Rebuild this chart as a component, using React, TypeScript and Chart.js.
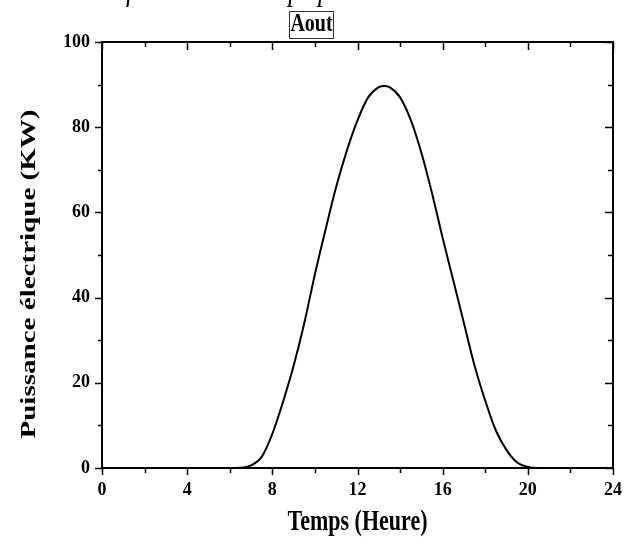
import React, { useEffect, useRef } from "react";
import { Chart, registerables } from "chart.js";

Chart.register(...registerables);

// ---- data ----
const HOURS = [
  1, 1.5, 2, 2.5, 3, 3.5, 4, 4.5, 5, 5.5, 6, 6.5, 7, 7.5, 8, 8.5, 9, 9.5, 10,
  10.5, 11, 11.5, 12, 12.5, 13, 13.25, 13.5, 14, 14.5, 15, 15.5, 16, 16.5, 17,
  17.5, 18, 18.5, 19, 19.5, 20, 20.5, 21, 21.5, 22, 22.5, 23, 23.5, 24,
];
const POWER = [
  0, 0, 0, 0, 0, 0, 0, 0, 0, 0, 0, 0.05, 0.6, 2.6, 8, 15.5, 24, 34, 45.5, 56,
  66, 74.5, 81.6, 87, 89.4, 89.7, 89.4, 87, 81.7, 74, 64.5, 54, 44, 34, 24,
  15.8, 8.8, 4.2, 1.3, 0.25, 0, 0, 0, 0, 0, 0, 0, 0,
];
const X_MAJOR_TICKS = [0, 4, 8, 12, 16, 20, 24];
const X_MINOR_TICKS = [2, 6, 10, 14, 18, 22];
const Y_MAJOR_TICKS = [0, 20, 40, 60, 80, 100];
const Y_MINOR_TICKS = [10, 30, 50, 70, 90];

const TITLE = "Aout";
const TOP_CAPTION = "en fonction du temps pour le mois de Aout";
const X_TITLE = "Temps (Heure)";
const Y_TITLE = "Puissance électrique (KW)";
const SERIF = "'Liberation Serif', 'Times New Roman', serif";

function drawText(
  ctx: CanvasRenderingContext2D,
  text: string,
  cx: number,
  cy: number,
  font: string,
  sx: number,
  sy: number,
  rotate = false
) {
  ctx.save();
  ctx.translate(cx, cy);
  if (rotate) ctx.rotate(-Math.PI / 2);
  ctx.scale(sx, sy);
  ctx.font = font;
  ctx.fillStyle = "#000";
  ctx.textAlign = "center";
  ctx.textBaseline = "middle";
  ctx.fillText(text, 0, 0);
  ctx.restore();
}

const framePlugin = {
  id: "frame",
  afterDraw(chart: any) {
    const ctx: CanvasRenderingContext2D = chart.ctx;
    const { left, right, top, bottom } = chart.chartArea;
    const xs = chart.scales.x;
    const ys = chart.scales.y;
    ctx.save();
    ctx.strokeStyle = "#000";
    ctx.lineWidth = 2;
    ctx.strokeRect(left, top, right - left, bottom - top);
    ctx.lineWidth = 1.5;
    ctx.beginPath();
    const xt = (v: number, major: boolean) => {
      const px = Math.round(xs.getPixelForValue(v)) + 0.5;
      ctx.moveTo(px, bottom);
      ctx.lineTo(px, bottom + (major ? 7 : 5));
      ctx.moveTo(px, top);
      ctx.lineTo(px, top + (major ? 8 : 5));
    };
    const yt = (v: number, major: boolean) => {
      const py = Math.round(ys.getPixelForValue(v)) + 0.5;
      ctx.moveTo(left, py);
      ctx.lineTo(left - (major ? 7 : 4), py);
      ctx.moveTo(right, py);
      ctx.lineTo(right - (major ? 8 : 5), py);
    };
    X_MAJOR_TICKS.forEach((v) => xt(v, true));
    X_MINOR_TICKS.forEach((v) => xt(v, false));
    Y_MAJOR_TICKS.forEach((v) => yt(v, true));
    Y_MINOR_TICKS.forEach((v) => yt(v, false));
    ctx.stroke();

    // axis titles
    drawText(ctx, X_TITLE, (left + right) / 2, 523, `bold 22px ${SERIF}`, 1, 1.3);
    drawText(ctx, Y_TITLE, 29, 274, `bold 22px ${SERIF}`, 1.32, 1, true);

    // boxed title
    ctx.font = `bold 20px ${SERIF}`;
    const tw = ctx.measureText(TITLE).width;
    const cx = (left + right) / 2 - 46;
    ctx.lineWidth = 1;
    ctx.strokeStyle = "#333";
    ctx.strokeRect(Math.round(cx - tw / 2 - 1) + 0.5, 11.5, Math.round(tw + 2), 27);
    drawText(ctx, TITLE, cx, 25, `bold 20px ${SERIF}`, 1, 1.25);

    // cut-off caption at the very top
    ctx.save();
    ctx.font = `italic 24px ${SERIF}`;
    const cw = ctx.measureText(TOP_CAPTION).width;
    ctx.translate(95, 0);
    ctx.scale(440 / cw, 1.3);
    ctx.fillStyle = "#000";
    ctx.textAlign = "left";
    ctx.textBaseline = "alphabetic";
    ctx.fillText(TOP_CAPTION, 0, 0);
    ctx.restore();

    ctx.restore();
  },
};

export default function App() {
  const ref = useRef<HTMLCanvasElement | null>(null);
  useEffect(() => {
    document.body.style.margin = "0";
    const canvas = ref.current;
    if (!canvas) return;
    const chart = new Chart(canvas, {
      type: "line",
      data: {
        datasets: [
          {
            data: HOURS.map((h, i) => ({ x: h, y: POWER[i] })),
            borderColor: "#000",
            borderWidth: 2,
            pointRadius: 0,
            cubicInterpolationMode: "monotone",
            fill: false,
            clip: false as any,
          },
        ],
      },
      options: {
        animation: false,
        responsive: false,
        maintainAspectRatio: false,
        layout: { padding: { top: 42, right: 25, left: 0, bottom: 0 } },
        plugins: {
          legend: { display: false },
          tooltip: { enabled: false },
          title: { display: false },
        },
        scales: {
          x: {
            type: "linear",
            min: 0,
            max: 24,
            afterFit: (s: any) => {
              s.height = 77;
            },
            afterBuildTicks: (s: any) => {
              s.ticks = X_MAJOR_TICKS.map((v) => ({ value: v }));
            },
            grid: { display: false, drawTicks: false, tickLength: 0 },
            border: { display: false },
            ticks: {
              padding: 12,
              color: "#000",
              maxRotation: 0,
              font: { family: SERIF, size: 18, weight: "bold" },
            },
          },
          y: {
            type: "linear",
            min: 0,
            max: 100,
            afterFit: (s: any) => {
              s.width = 102;
            },
            afterBuildTicks: (s: any) => {
              s.ticks = Y_MAJOR_TICKS.map((v) => ({ value: v }));
            },
            grid: { display: false, drawTicks: false, tickLength: 0 },
            border: { display: false },
            ticks: {
              padding: 12,
              color: "#000",
              font: { family: SERIF, size: 18, weight: "bold" },
            },
          },
        },
      },
      plugins: [framePlugin],
    });
    return () => chart.destroy();
  }, []);
  return (
    <div style={{ width: 638, height: 545, background: "#fff" }}>
      <canvas ref={ref} width={638} height={545} style={{ display: "block" }} />
    </div>
  );
}
